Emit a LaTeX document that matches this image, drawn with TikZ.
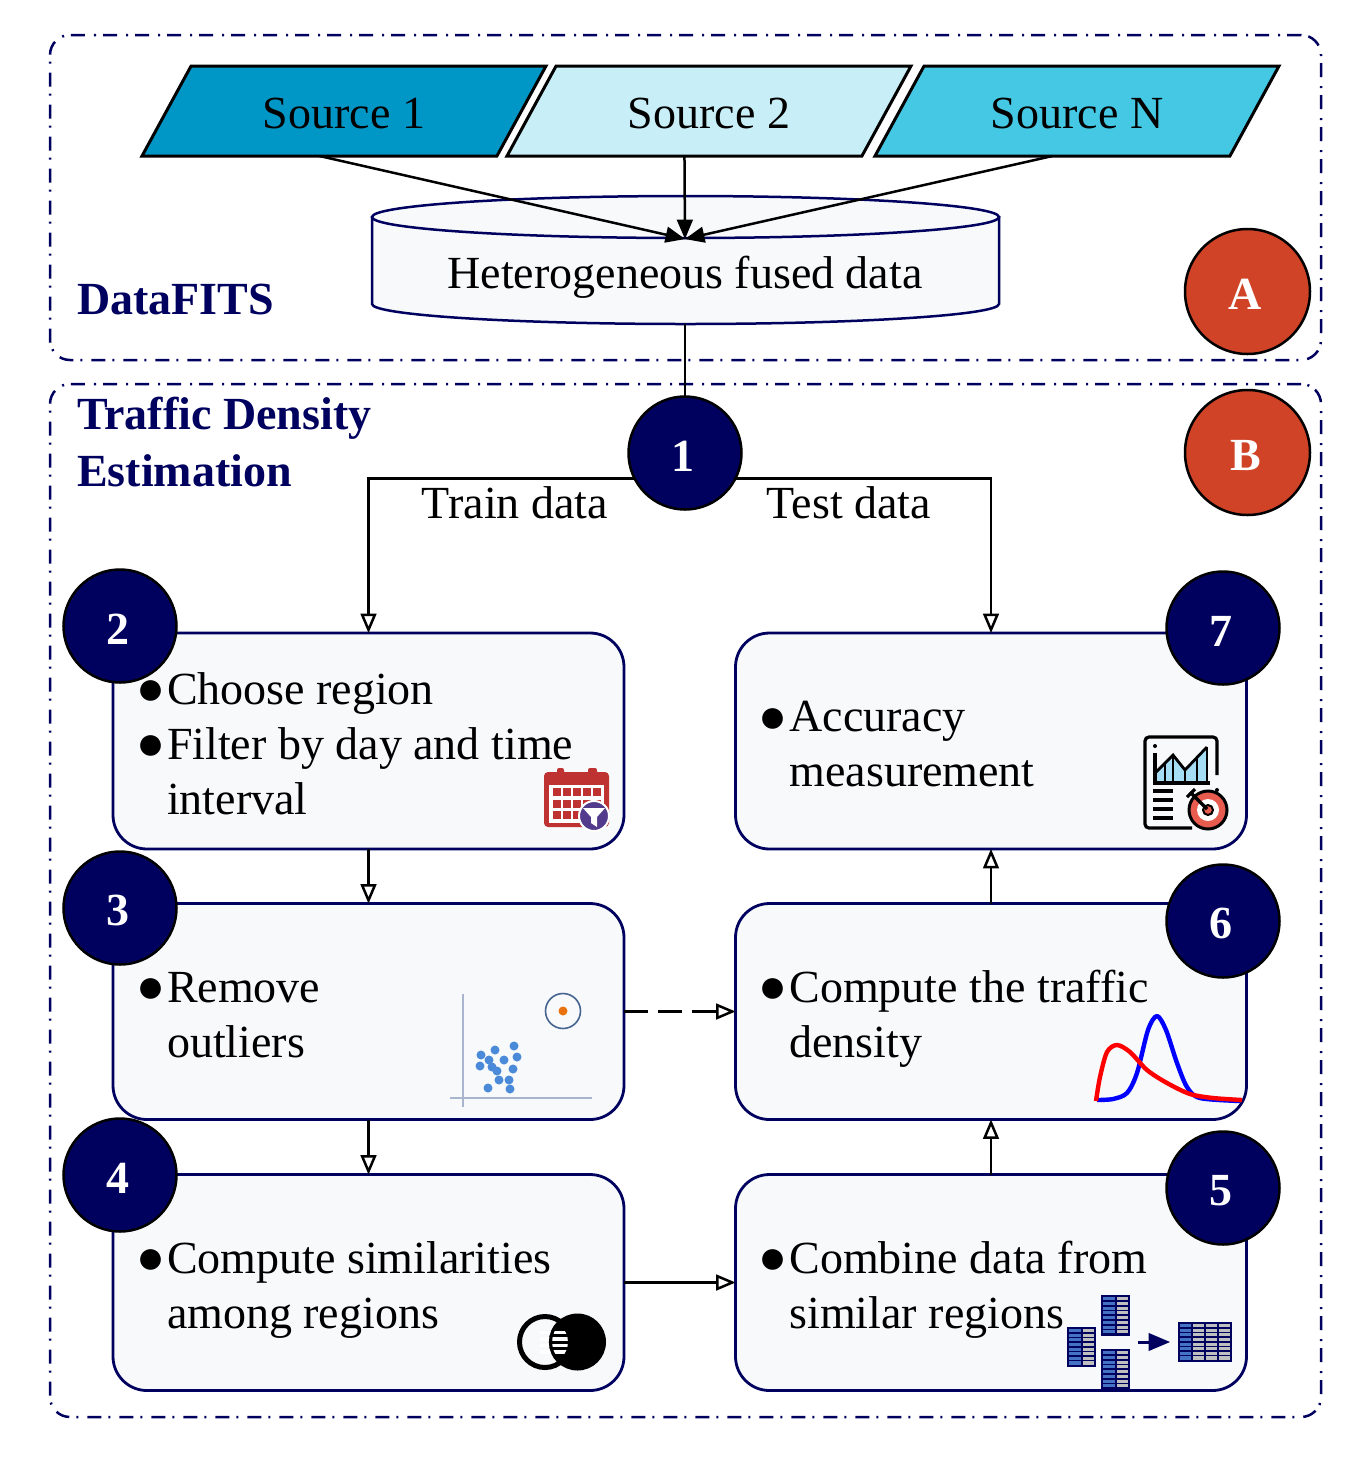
\documentclass[tikz,border=0pt]{standalone}
\usepackage{fontspec}
\setmainfont{Liberation Serif}
\usetikzlibrary{arrows,shapes.geometric}
\definecolor{navyline}{HTML}{00005F}
\definecolor{panelfill}{HTML}{F7F9FB}
\definecolor{srcone}{HTML}{0097C7}
\definecolor{srctwo}{HTML}{C8EEF7}
\definecolor{srcn}{HTML}{45C8E4}
\definecolor{tagred}{HTML}{D04327}
\definecolor{calred}{HTML}{BE3231}
\definecolor{calpurple}{HTML}{523A8C}
\definecolor{dotblue}{HTML}{4A8AD8}
\definecolor{axisgrey}{HTML}{A9B5CC}
\definecolor{ringblue}{HTML}{45648F}
\definecolor{dotorange}{HTML}{E8730F}
\definecolor{cellblue}{HTML}{4472C4}
\definecolor{cellgrey}{HTML}{BFBFBF}
\definecolor{barblue}{HTML}{A5DDF5}
\definecolor{targetred}{HTML}{E85C50}
\newcommand{\linestrut}{\rule[-5.5pt]{0pt}{27.5pt}}
\newcommand{\firstgap}{\rule{0pt}{23.5pt}}
\newcommand{\bul}{\linestrut\makebox[14pt][l]{\hspace*{-1.5pt}\raisebox{-0.3pt}{\fontsize{24}{24}\selectfont ●}}}
\newcommand{\hng}{\linestrut\hspace*{14pt}}
\newcommand{\datatable}[5]{%
  \fill[navyline] (#1,#2) rectangle (#1+#3,#2+#4);
  \foreach \r in {0,...,7}
    \foreach \c in {1,...,#5} {
      \pgfmathsetmacro{\cx}{#1+2+(\c-1)*(#3-2)/#5}
      \pgfmathsetmacro{\cy}{#2+2+\r*(#4-3)/8}
      \pgfmathsetmacro{\cw}{(#3-2)/#5-2}
      \ifnum\c=1 \fill[cellblue] (\cx,\cy) rectangle +(\cw,3.2);
      \else \fill[cellgrey] (\cx,\cy) rectangle +(\cw,3.2); \fi
    }
}
\begin{document}
\begin{tikzpicture}[x=0.5pt,y=-0.5pt,>=triangle 45,line width=1.25pt,
  group box/.style={draw=navyline,rounded corners=10pt,dash pattern=on 7pt off 3.5pt on 1pt off 4.5pt},
  source node/.style={draw=black,line width=1.5pt,trapezium,trapezium left angle=61.4,trapezium right angle=118.6,trapezium stretches body=true,
    minimum width=202pt,text height=17.5pt,text depth=0pt,inner xsep=0pt,inner ysep=13.75pt,outer sep=0pt,font=\fontsize{23}{27}\selectfont},
  step node/.style={draw=navyline,line width=1.4pt,fill=panelfill,rounded corners=17pt,minimum width=255.5pt,minimum height=108pt,
    text width=229.5pt,inner xsep=13pt,inner ysep=0pt,outer sep=0pt,align=flush left,font=\fontsize{23}{27.5}\selectfont},
  num node/.style={circle,draw=black,fill=navyline,text=white,minimum size=56.5pt,text height=18pt,inner sep=0pt,outer sep=0pt,
    execute at end node={\kern2pt},font=\fontsize{23}{27}\selectfont\bfseries},
  tag node/.style={circle,draw=black,fill=tagred,text=white,minimum size=62.5pt,text height=18pt,inner sep=0pt,outer sep=0pt,
    execute at end node={\kern2pt},font=\fontsize{23}{27}\selectfont\bfseries},
  title node/.style={text=navyline,align=flush left,inner sep=0pt,font=\fontsize{23}{28.4}\selectfont\bfseries},
  link/.style={->,black},
  open link/.style={-open triangle 45,black}]

  \useasboundingbox (0,0) rectangle (1358,1458);

  \node[group box,minimum width=635.5pt,minimum height=162.5pt] (groupA) at (685.5,197.5) {};
  \node[group box,minimum width=635.5pt,minimum height=516.5pt] (groupB) at (685.5,900.5) {};

  \node[source node,fill=srcone] (src1) at (344,111) {Source 1};
  \node[source node,fill=srctwo] (src2) at (709,111) {Source 2};
  \node[source node,fill=srcn] (srcN) at (1077,111) {Source N};

  \filldraw[draw=navyline,fill=panelfill] (372,217) -- (372,304) arc[x radius=313.5,y radius=20,start angle=180,end angle=0] -- (999,217) -- cycle;
  \filldraw[draw=navyline,fill=panelfill] (685.5,217) ellipse [x radius=313.5,y radius=21];
  \node[font=\fontsize{23}{27}\selectfont] (fused) at (685,277) {Heterogeneous fused data};
  \coordinate (fusedin) at (685,239);
  \coordinate (fusedout) at (685,324);

  \node[title node,anchor=base west] (titleA) at (76,314) {DataFITS};
  \node[title node,anchor=north west] (titleB) at (76,396) {Traffic Density\\Estimation};

  \node[step node] (box2) at (368.5,741) {\firstgap\bul Choose region\\\bul Filter by day and time\\\hng interval};
  \node[step node] (box3) at (368.5,1011.5) {\firstgap\bul Remove\\\hng outliers};
  \node[step node] (box4) at (368.5,1282.5) {\firstgap\bul Compute similarities\\\hng among regions};
  \node[step node] (box7) at (991,741) {\firstgap\bul Accuracy\\\hng measurement};
  \node[step node] (box6) at (991,1011.5) {\firstgap\bul Compute the traffic\\\hng density};
  \node[step node] (box5) at (991,1282.5) {\firstgap\bul Combine data from\\\hng similar regions};

  \node[num node] (n1) at (685,453) {1};
  \node[num node] (n2) at (120,626) {2};
  \node[num node] (n3) at (120,908) {3};
  \node[num node] (n4) at (120,1175) {4};
  \node[num node] (n5) at (1223,1188) {5};
  \node[num node] (n6) at (1223,921) {6};
  \node[num node] (n7) at (1223,628) {7};
  \node[tag node] (tagA) at (1247.5,291.5) {A};
  \node[tag node] (tagB) at (1247.5,452.5) {B};

  \node[font=\fontsize{23}{27}\selectfont] (train) at (515,503) {Train data};
  \node[font=\fontsize{23}{27}\selectfont] (test) at (849,503) {Test data};

  \draw[link] (src1.bottom side) -- (fusedin);
  \draw[link] (src2.bottom side) -- (fusedin);
  \draw[link] (srcN.bottom side) -- (fusedin);
  \draw[black] (fusedout) -- (n1.north);
  \draw[open link] (n1.207.7) -| (box2.north);
  \draw[open link] (n1.-27.7) -| (box7.north);
  \draw[open link] (box2.south) -- (box3.north);
  \draw[open link] (box3.south) -- (box4.north);
  \draw[open link] (box5.north) -- (box6.south);
  \draw[open link] (box6.north) -- (box7.south);
  \draw[open link] (box4.east) -- (box5.west);
  \draw[open link,dash pattern=on 12pt off 5pt] (box3.east) -- (box6.west);

  \fill[calred,rounded corners=2pt] (544,772) rectangle (609,827);
  \fill[calred,rounded corners=1pt] (557,768) rectangle (564,776) (588,768) rectangle (597,776);
  \fill[white] (549,785) rectangle (604,823);
  \foreach \gx in {553,563,573,583,593}
    \foreach \gy in {788,800,811}
      \fill[calred] (\gx,\gy) rectangle +(8,8);
  \filldraw[fill=calpurple,draw=white,line width=1pt] (594,816) circle (15);
  \fill[white] (583,808) -- (605,808) -- (597,817) -- (597,827) -- (591,823) -- (591,817) -- cycle;

  \fill[barblue] (1156,772) -- (1173,755) -- (1185,770) -- (1207,747) -- (1207,783) -- (1156,783) -- cycle;
  \draw[black,line width=1.6pt,rounded corners=2pt] (1217,775) -- (1217,737) -- (1145,737) -- (1145,828) -- (1192,828);
  \fill[black] (1217,790) circle (2) (1155,746) circle (2);
  \draw[black,line width=1.6pt] (1155,753) -- (1155,783) -- (1210,783);
  \draw[black,line width=1.4pt] (1156,772) -- (1173,755) -- (1185,770) -- (1207,747);
  \foreach \bx/\by in {1165/763,1173/755,1185/770,1197/758,1207/747}
    \draw[black,line width=1.4pt] (\bx,783) -- (\bx,\by);
  \foreach \ly in {791,800,809,818}
    \draw[black,line width=1.6pt] (1153,\ly) -- (1173,\ly);
  \filldraw[fill=targetred,draw=black,line width=1.5pt] (1208,810) circle (19);
  \fill[white] (1208,810) circle (11);
  \filldraw[fill=targetred,draw=black,line width=1pt] (1208,810) circle (5);
  \draw[black,line width=1.6pt] (1190,792) -- (1207,809);
  \draw[black,line width=1.6pt] (1187,797) -- (1195,789);

  \draw[axisgrey,line width=0.6pt] (463,994) -- (463,1107) (450,1098) -- (592,1098);
  \draw[ringblue,line width=0.8pt] (563,1011) circle (17.5);
  \fill[dotorange] (563,1011) circle (4.5);
  \foreach \dx/\dy in {514/1046,495/1050,481/1055,517/1057,489/1060,504/1060,480/1066,492/1067,497/1071,513/1069,499/1080,509/1080,488/1088,510/1089}
    \fill[dotblue] (\dx,\dy) circle (4.5);

  \draw[blue,line width=2.2pt,line join=round] plot[smooth] coordinates {(1097,1100) (1113,1099) (1127,1093) (1137,1073) (1148,1030) (1157,1016) (1166,1030) (1177,1063) (1187,1087) (1200,1098) (1240,1101)};
  \draw[red,line width=2.2pt,line join=round] plot[smooth] coordinates {(1096,1101) (1100,1077) (1107,1052) (1117,1045) (1130,1052) (1147,1070) (1167,1083) (1190,1094) (1213,1098) (1242,1100)};

  \fill[black] (577.5,1342) circle (28.5);
  \begin{scope}
    \clip (545,1342) circle (25.5);
    \foreach \sy in {1330.5,1337,1343.5,1350}
      \fill[white] (540,\sy) rectangle (575,\sy+3.5);
    \draw[black,line width=1.6pt] (577.5,1342) circle (27);
  \end{scope}
  \draw[black,line width=2.5pt] (545,1342) circle (25.5);

  \datatable{1067}{1327}{29}{40}{2}
  \datatable{1101}{1295}{29}{41}{2}
  \datatable{1101}{1349}{29}{41}{2}
  \datatable{1178}{1322}{54}{40}{4}
  \draw[navyline,line width=1.5pt,->] (1138,1342) -- (1170,1342);
\end{tikzpicture}
\end{document}
